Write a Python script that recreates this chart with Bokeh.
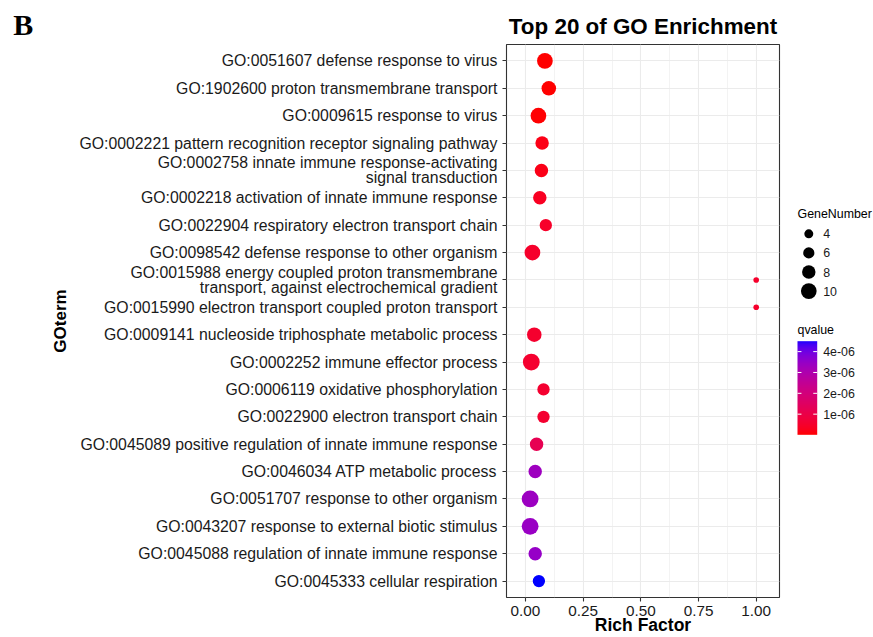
import numpy as np
from bokeh.plotting import figure
from bokeh.models import (ColumnDataSource, FactorRange, Range1d, FixedTicker,
                          PrintfTickFormatter, LinearColorMapper)
from bokeh.core.properties import value
from bokeh.layouts import row
from bokeh.embed import file_html
from bokeh.resources import INLINE

# ---------------- data ----------------
terms = [
    "GO:0051607 defense response to virus",
    "GO:1902600 proton transmembrane transport",
    "GO:0009615 response to virus",
    "GO:0002221 pattern recognition receptor signaling pathway",
    "GO:0002758 innate immune response-activating\nsignal transduction",
    "GO:0002218 activation of innate immune response",
    "GO:0022904 respiratory electron transport chain",
    "GO:0098542 defense response to other organism",
    "GO:0015988 energy coupled proton transmembrane\ntransport, against electrochemical gradient",
    "GO:0015990 electron transport coupled proton transport",
    "GO:0009141 nucleoside triphosphate metabolic process",
    "GO:0002252 immune effector process",
    "GO:0006119 oxidative phosphorylation",
    "GO:0022900 electron transport chain",
    "GO:0045089 positive regulation of innate immune response",
    "GO:0046034 ATP metabolic process",
    "GO:0051707 response to other organism",
    "GO:0043207 response to external biotic stimulus",
    "GO:0045088 regulation of innate immune response",
    "GO:0045333 cellular respiration",
]
rich_factor = [0.084, 0.101, 0.056, 0.072, 0.069, 0.062, 0.088, 0.030, 1.00, 1.00,
               0.038, 0.025, 0.078, 0.078, 0.048, 0.042, 0.020, 0.020, 0.042, 0.058]
gene_number = [10, 9, 10, 8, 8, 8, 7, 10, 1, 1, 9, 11, 7, 7, 8, 8, 11, 11, 8, 7]
qvalue = [1.0e-8, 2.0e-8, 3.0e-8, 2.0e-7, 2.2e-7, 3.5e-7, 4.6e-7, 4.8e-7, 5.0e-7, 5.0e-7,
          5.2e-7, 5.4e-7, 5.6e-7, 5.6e-7, 1.2e-6, 3.3e-6, 3.35e-6, 3.4e-6, 3.45e-6, 4.5e-6]
x_ticks = [0.0, 0.25, 0.5, 0.75, 1.0]
x_minor = [0.125, 0.375, 0.625, 0.875]
size_keys = [4, 6, 8, 10]
q_ticks = [1e-6, 2e-6, 3e-6, 4e-6]
q_tick_labels = ["1e-06", "2e-06", "3e-06", "4e-06"]

FONT = "Liberation Sans"

# --------------- scales ---------------
def size_px(n):
    return 4.5 + 1.12 * np.asarray(n, dtype=float)

def srgb_to_lab(rgb):
    c = np.array(rgb, dtype=float) / 255.0
    c = np.where(c <= 0.04045, c / 12.92, ((c + 0.055) / 1.055) ** 2.4)
    M = np.array([[0.4124, 0.3576, 0.1805], [0.2126, 0.7152, 0.0722], [0.0193, 0.1192, 0.9505]])
    xyz = M @ c / np.array([0.95047, 1.0, 1.08883])
    f = np.where(xyz > 0.008856, np.cbrt(xyz), 7.787 * xyz + 16 / 116)
    return np.array([116 * f[1] - 16, 500 * (f[0] - f[1]), 200 * (f[1] - f[2])])

def lab_to_hex(lab):
    L, a, b = lab
    fy = (L + 16) / 116
    f = np.array([fy + a / 500, fy, fy - b / 200])
    xyz = np.where(f ** 3 > 0.008856, f ** 3, (f - 16 / 116) / 7.787) * np.array([0.95047, 1.0, 1.08883])
    Minv = np.array([[3.2406, -1.5372, -0.4986], [-0.9689, 1.8758, 0.0415], [0.0557, -0.2040, 1.0570]])
    c = Minv @ xyz
    c = np.where(c <= 0.0031308, 12.92 * c, 1.055 * np.clip(c, 0, None) ** (1 / 2.4) - 0.055)
    c = np.clip(np.round(c * 255), 0, 255).astype(int)
    return "#%02x%02x%02x" % tuple(c)

lab_lo = srgb_to_lab((255, 0, 0))
lab_hi = srgb_to_lab((0, 0, 255))
palette = [lab_to_hex(lab_lo + (lab_hi - lab_lo) * t) for t in np.linspace(0, 1, 256)]
qmin, qmax = min(qvalue), max(qvalue)
mapper = LinearColorMapper(palette=palette, low=qmin, high=qmax)

src = ColumnDataSource(dict(term=terms, rich=rich_factor, genes=gene_number,
                            q=qvalue, size=size_px(gene_number)))

# --------------- layout constants ---------------
H = 637
TOP, BOTTOM = 44, 40            # frame top / bottom border (canvas px)
W_B, W_MAIN, W_LEG = 40, 747, 86
FRAME_L = 506                   # frame left edge on the canvas

# --------------- "B" panel ---------------
bf = figure(width=W_B, height=H, title="B", x_axis_type=None, y_axis_type=None,
            output_backend="svg", toolbar_location=None,
            min_border_left=0, min_border_right=0, min_border_top=TOP, min_border_bottom=BOTTOM)
bf.outline_line_color = None
bf.title.text_font = "Liberation Serif"
bf.title.text_font_style = "bold"
bf.title.text_font_size = "30px"
bf.title.text_color = "black"
bf.title.align = "left"
bf.title.offset = 12.7
bf.title.standoff = 6.7

# --------------- main plot ---------------
p = figure(width=W_MAIN, height=H,
           y_range=FactorRange(factors=terms[::-1], range_padding=0.1, range_padding_units="absolute"),
           x_range=Range1d(-0.0824, 1.101),
           output_backend="svg", toolbar_location=None,
           min_border_left=FRAME_L - W_B, min_border_right=8,
           min_border_top=TOP, min_border_bottom=BOTTOM)
p.background_fill_color = "white"
p.border_fill_color = "white"
p.outline_line_color = "#333333"
p.outline_line_width = 1.1

p.title.text = "Top 20 of GO Enrichment"
p.title.align = "center"
p.title.text_font = FONT
p.title.text_font_size = "22.4px"
p.title.text_font_style = "bold"
p.title.text_color = "black"
p.title.standoff = 12

p.xgrid.grid_line_color = "#EBEBEB"
p.xgrid.grid_line_width = 1.1
p.xgrid.minor_grid_line_color = "#EBEBEB"
p.xgrid.minor_grid_line_width = 0.6
p.ygrid.grid_line_color = "#EBEBEB"
p.ygrid.grid_line_width = 1.1

p.xaxis.ticker = FixedTicker(ticks=x_ticks, minor_ticks=x_minor)
p.xaxis.formatter = PrintfTickFormatter(format="%.2f")
for ax in (p.xaxis, p.yaxis):
    ax.axis_line_color = None
    ax.major_tick_line_color = "#333333"
    ax.major_tick_line_width = 1.1
    ax.major_tick_out = 4
    ax.major_tick_in = 0
    ax.minor_tick_line_color = None
    ax.major_label_text_font = FONT
    ax.major_label_text_color = "#1a1a1a"
    ax.axis_label_text_font = FONT
    ax.axis_label_text_font_style = "bold"
    ax.axis_label_text_color = "black"

p.xaxis.axis_label = "Rich Factor"
p.xaxis.axis_label_text_font_size = "17.5px"
p.xaxis.major_label_text_font_size = "15.3px"
p.xaxis.major_label_standoff = 4
p.xaxis.axis_label_standoff = -4

p.yaxis.axis_label = "GOterm"
p.yaxis.axis_label_text_font_size = "17px"
p.yaxis.major_label_text_font_size = "15.8px"
p.yaxis.major_label_text_line_height = 0.89
p.yaxis.major_label_standoff = 5
p.yaxis.axis_label_standoff = 6

p.scatter(x="rich", y="term", size="size", source=src,
          fill_color={"field": "q", "transform": mapper}, line_color=None)

# --------------- legend panel (data coords == canvas px) ---------------
x0_leg = W_B + W_MAIN
lf = figure(width=W_LEG, height=H, title=None,
            x_range=Range1d(x0_leg, x0_leg + W_LEG), y_range=Range1d(H - BOTTOM, TOP),
            output_backend="svg", toolbar_location=None,
            min_border_left=0, min_border_right=0, min_border_top=TOP, min_border_bottom=BOTTOM,
            x_axis_type=None, y_axis_type=None)
lf.outline_line_color = None
lf.background_fill_color = "white"
lf.border_fill_color = "white"

LEG_X, KEY_X, LAB_X = 797, 808.3, 822.7
LEG_FONT = "12.4px"

# size legend
lf.text(x=[LEG_X], y=[213], text=["GeneNumber"], text_font=value(FONT), text_font_size=LEG_FONT,
        text_baseline="middle", text_align="left", text_color="black")
key_y0, key_step = 233.3, 19.1
key_y = [key_y0 + i * key_step for i in range(len(size_keys))]
leg_src = ColumnDataSource(dict(x=[KEY_X] * len(size_keys), y=key_y, size=size_px(size_keys),
                                lab=[str(k) for k in size_keys], lx=[LAB_X] * len(size_keys)))
lf.scatter(x="x", y="y", size="size", source=leg_src, fill_color="black", line_color=None)
lf.text(x="lx", y="y", text="lab", source=leg_src, text_font=value(FONT), text_font_size=LEG_FONT,
        text_baseline="middle", text_align="left", text_color="#1a1a1a")

# colour bar legend: its own q scale mapped onto the bar's pixel span
lf.text(x=[LEG_X], y=[329], text=["qvalue"], text_font=value(FONT), text_font_size=LEG_FONT,
        text_baseline="middle", text_align="left", text_color="black")
CB_TOP, CB_BOT, CB_W = 340.7, 434.3, 19.7

def y_to_q(y):
    return qmin + (CB_BOT - y) / (CB_BOT - CB_TOP) * (qmax - qmin)

lf.extra_y_ranges = {"q": Range1d(start=y_to_q(H - BOTTOM), end=y_to_q(TOP))}
grad = np.linspace(qmin, qmax, 256).reshape(256, 1)
lf.image(image=[grad], x=LEG_X, y=qmin, dw=CB_W, dh=qmax - qmin, color_mapper=mapper,
         y_range_name="q")
tick_len = CB_W / 5
lf.segment(x0=[LEG_X] * 4, x1=[LEG_X + tick_len] * 4, y0=q_ticks, y1=q_ticks,
           y_range_name="q", line_color="white", line_width=1)
lf.segment(x0=[LEG_X + CB_W - tick_len] * 4, x1=[LEG_X + CB_W] * 4, y0=q_ticks, y1=q_ticks,
           y_range_name="q", line_color="white", line_width=1)
lf.text(x=[LAB_X] * 4, y=q_ticks, text=q_tick_labels, y_range_name="q",
        text_font=value(FONT), text_font_size=LEG_FONT,
        text_baseline="middle", text_align="left", text_color="#1a1a1a")

layout = row(bf, p, lf, spacing=0)
open("out.html", "w").write(file_html(layout, INLINE))
